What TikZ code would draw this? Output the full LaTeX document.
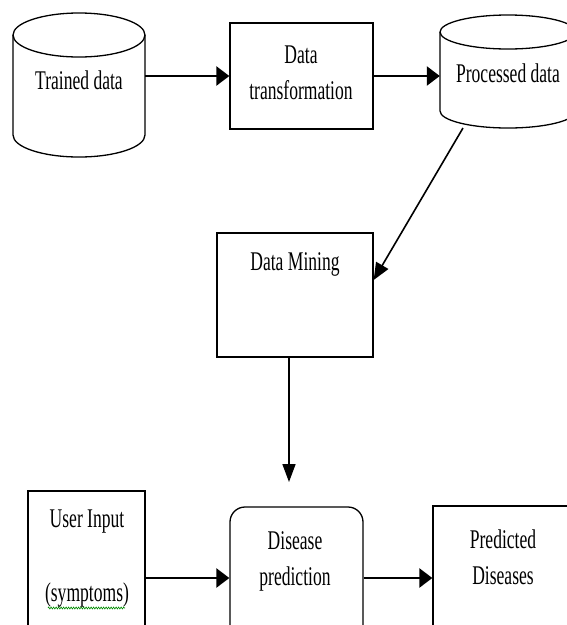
\documentclass[tikz,border=0pt]{standalone}
\usepackage{fontspec}
\setmainfont{Liberation Serif}[FakeStretch=0.65]
\usetikzlibrary{arrows.meta,calc,decorations.pathmorphing}
\begin{document}
\begin{tikzpicture}[x=1pt,y=-1pt,
  box/.style={draw,line width=1.3pt,inner sep=0pt},
  lbl/.style={font=\fontsize{27pt}{36pt}\selectfont,inner sep=0pt,align=center},
  hole/.style={inner sep=0pt,draw=none},
  harrow/.style={line width=2.5pt,-{Triangle[length=13pt,width=19pt]}},
  varrow/.style={line width=1.6pt,-{Triangle[length=18pt,width=13pt]}},
  darrow/.style={line width=1.6pt,-{Triangle[length=17pt,width=14pt]}},
  cyl/.style={line width=1.3pt},
  squiggle/.style={green!55!black,line width=0.6pt,decorate,decoration={zigzag,segment length=2.5pt,amplitude=1pt}}
]
\useasboundingbox (0,0) rectangle (567,625);
\clip (0,0) rectangle (567,625);
\fill[white] (0,0) rectangle (567,625);

% Trained data cylinder
\node[hole,minimum width=132pt,minimum height=144pt] (td) at (79,85) {};
\draw[cyl] (79,35) ellipse[x radius=66pt,y radius=22pt];
\draw[cyl] (13,35) -- (13,135) arc[start angle=180,end angle=360,x radius=66pt,y radius=22pt] -- (145,35);
\node[lbl] (tdt) at (79,80) {Trained data};

% Data transformation
\node[box,minimum width=143pt,minimum height=106pt] (dt) at (301.5,76) {};
\node[lbl] (dtt) at (301,72.5) {Data\\transformation};

% Processed data cylinder
\node[hole,minimum width=136pt,minimum height=113pt] (pc) at (508,71.5) {};
\draw[cyl] (508,32) ellipse[x radius=68pt,y radius=17pt];
\draw[cyl] (440,32) -- (440,111) arc[start angle=180,end angle=360,x radius=68pt,y radius=17pt] -- (576,32);
\node[lbl] (pct) at (508,73) {Processed data};

% Data Mining
\node[box,minimum width=156pt,minimum height=124pt] (dm) at (295,295) {};
\node[lbl] (dmt) at (295,264) {Data Mining};

% User Input
\node[box,minimum width=117pt,minimum height=159pt] (ui) at (86.5,570.5) {};
\node[lbl] (uit1) at (87,522) {User Input};
\node[lbl] (uit2) at (87,595) {(symptoms)};
\coordinate (sqa) at (48,608);
\coordinate (sqb) at (125,608);
\draw[squiggle] (sqa) -- (sqb);

% Disease prediction
\node[box,rounded corners=15pt,minimum width=133pt,minimum height=153pt] (dp) at (296.5,583.5) {};
\node[lbl] (dpt) at (295,561) {Disease\\prediction};

% Predicted Diseases
\node[box,minimum width=177pt,minimum height=154pt] (pd) at (521.5,583) {};
\node[lbl] (pdt) at (503,557.5) {Predicted\\Diseases};

% connectors
\draw[harrow] (td.east |- dt.west) -- (dt.west);
\draw[harrow] (dt.east) -- (pc.west |- dt.east);
\coordinate (pcout) at (463,128);
\draw[darrow] (pcout) -- ($(dm.east)+(0,-15)$);
\coordinate (dmend) at (289,482);
\draw[varrow] (dm.south -| dmend) -- (dmend);
\coordinate (ay) at (0,578);
\draw[harrow] (ui.east |- ay) -- (dp.west |- ay);
\draw[harrow] (dp.east |- ay) -- (pd.west |- ay);
\end{tikzpicture}
\end{document}
